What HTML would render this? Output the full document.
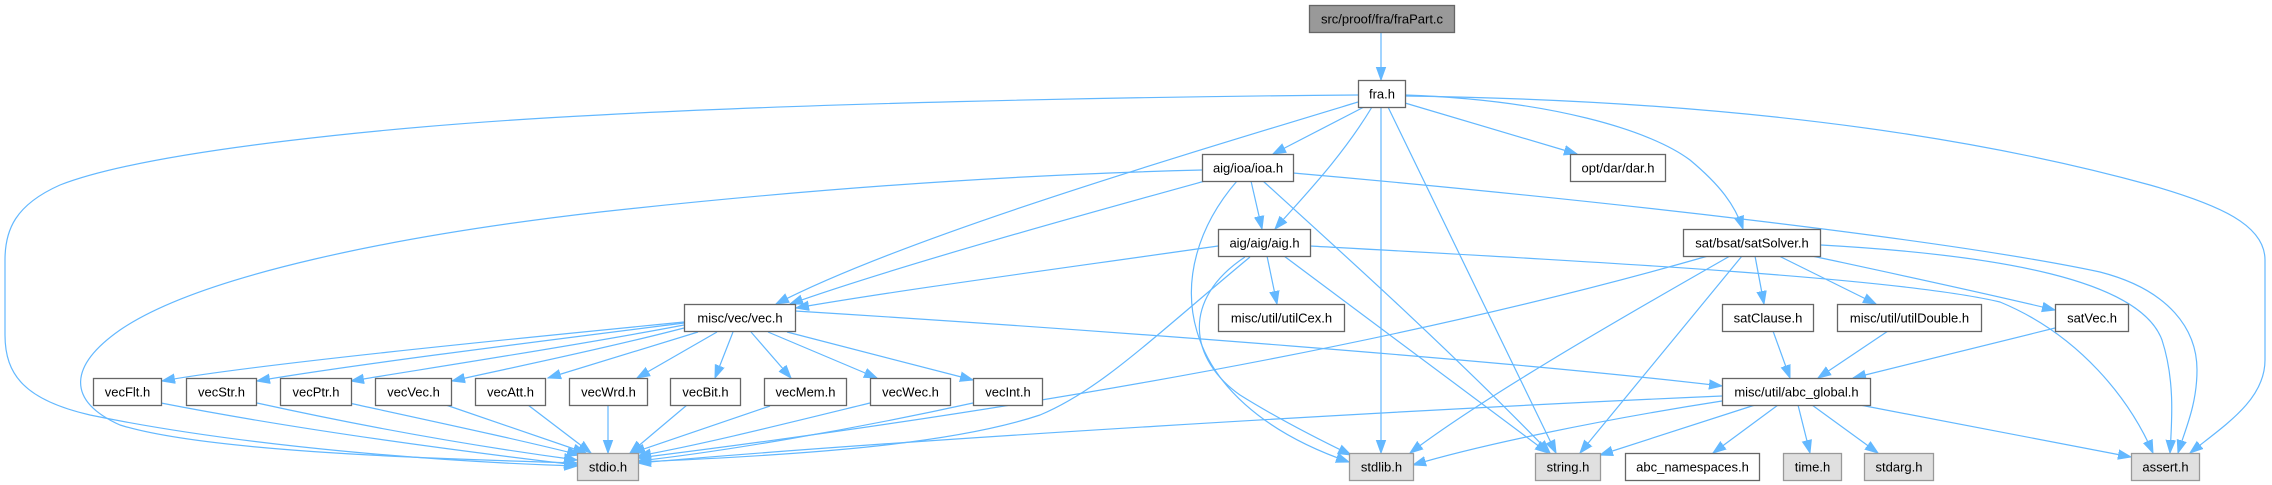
<!DOCTYPE html>
<html>
<head>
<meta charset="utf-8">
<style>
html,body{margin:0;padding:0;background:#ffffff;}
svg{display:block;}
text{font-family:"Liberation Sans",Arial,sans-serif;font-size:13px;fill:#000;}
</style>
</head>
<body>
<svg width="2272" height="485" viewBox="0 0 2272 485" xmlns="http://www.w3.org/2000/svg">
<defs>
<marker id="a" markerUnits="userSpaceOnUse" markerWidth="14" markerHeight="11" refX="13" refY="5.5" orient="auto">
<path d="M0,0.8 L13,5.5 L0,10.2 z" fill="#63b8ff" stroke="#63b8ff" stroke-width="1"/>
</marker>
</defs>
<rect x="0" y="0" width="2272" height="485" fill="#ffffff"/>
<g fill="none" stroke="#63b8ff" stroke-width="1.2" marker-end="url(#a)">
<path d="M1381,32 L1381,80"/>
<path d="M1358,95 C1100,97 800,104 600,115 C400,125 150,150 60,185 C15,205 5,230 5,260 L5,335 C5,375 25,400 90,415 C250,448 450,462 577,466"/>
<path d="M1202,170 C1000,175 800,190 600,212 C400,235 200,275 120,330 C70,365 65,400 120,425 C200,450 400,458 577,463"/>
<path d="M1358,102 C1150,165 900,240 776,304"/>
<path d="M1205,181 C1100,210 900,265 790,304"/>
<path d="M1218,246 C1050,270 900,290 796,308"/>
<path d="M1364,107 L1273,154"/>
<path d="M1372,107 C1340,160 1300,200 1275,229"/>
<path d="M1381,107 L1381,453"/>
<path d="M1388,107 L1556,453"/>
<path d="M1405,103 L1577,154"/>
<path d="M1405,95 C1550,100 1650,130 1690,160 C1720,185 1735,205 1743,229"/>
<path d="M1405,96 C1700,100 1950,130 2150,185 C2220,205 2265,225 2265,260 L2265,360 C2265,400 2225,425 2190,453"/>
<path d="M1251,181 L1262,229"/>
<path d="M1237,181 C1160,270 1170,400 1349,462"/>
<path d="M1263,181 C1350,260 1450,350 1550,453"/>
<path d="M1293,173 C1600,200 1950,240 2100,272 C2170,290 2197,330 2197,370 C2197,405 2185,430 2178,453"/>
<path d="M1267,256 L1277,304"/>
<path d="M1250,257 C1150,340 1100,390 1040,415 C950,445 800,455 638,462"/>
<path d="M1245,257 C1180,300 1190,360 1240,395 C1280,420 1320,440 1351,455"/>
<path d="M1284,256 L1548,453"/>
<path d="M1310,246 C1600,262 1900,278 2000,302 C2080,335 2130,400 2153,453"/>
<path d="M1708,256 C1450,330 1100,400 638,458"/>
<path d="M1730,256 C1600,330 1480,400 1410,453"/>
<path d="M1742,256 L1580,453"/>
<path d="M1755,256 L1764,304"/>
<path d="M1779,256 L1876,304"/>
<path d="M1812,256 C1900,275 1980,292 2055,310"/>
<path d="M1821,245 C2000,255 2140,280 2162,340 C2175,380 2172,420 2170,453"/>
<path d="M1773,331 L1790,378"/>
<path d="M1888,331 L1818,378"/>
<path d="M2055,328 L1853,378"/>
<path d="M795,311 C1100,330 1500,360 1722,386"/>
<path d="M1722,396 C1400,410 900,440 638,463"/>
<path d="M1722,401 C1600,420 1480,445 1413,465"/>
<path d="M1755,405 L1600,455"/>
<path d="M1778,405 L1713,453"/>
<path d="M1798,405 L1810,453"/>
<path d="M1812,405 L1878,453"/>
<path d="M1860,405 L2131,457"/>
<path d="M684,322 C500,340 250,365 162,381"/>
<path d="M684,323 C550,340 350,365 257,381"/>
<path d="M684,325 C580,345 430,368 351,381"/>
<path d="M684,328 C600,350 500,370 452,381"/>
<path d="M698,332 L548,378"/>
<path d="M717,332 L637,378"/>
<path d="M733,332 L715,378"/>
<path d="M751,332 L791,378"/>
<path d="M768,332 L877,378"/>
<path d="M787,332 L973,380"/>
<path d="M161,403 C300,430 450,450 577,465"/>
<path d="M257,403 C380,430 480,447 577,460"/>
<path d="M349,403 C450,425 520,440 580,455"/>
<path d="M446,405 L586,453"/>
<path d="M528,405 L591,453"/>
<path d="M608,405 L608,453"/>
<path d="M687,405 L630,453"/>
<path d="M770,406 L632,453"/>
<path d="M870,403 C780,425 700,445 638,456"/>
<path d="M973,403 C850,430 720,452 638,461"/>
</g>

<g stroke-width="1.3" text-anchor="middle">
<rect x="1309.5" y="5.5" width="145" height="27" fill="#999999" stroke="#666666"/>
<text x="1382" y="23.5">src/proof/fra/fraPart.c</text>

<rect x="1358.5" y="80.5" width="47" height="27" fill="#ffffff" stroke="#666666"/>
<text x="1382" y="98.5">fra.h</text>

<rect x="1202.5" y="154.5" width="91" height="27" fill="#ffffff" stroke="#666666"/>
<text x="1248" y="172.5">aig/ioa/ioa.h</text>

<rect x="1570.5" y="154.5" width="95" height="27" fill="#ffffff" stroke="#666666"/>
<text x="1618" y="172.5">opt/dar/dar.h</text>

<rect x="1218.5" y="229.5" width="92" height="27" fill="#ffffff" stroke="#666666"/>
<text x="1264.5" y="247.5">aig/aig/aig.h</text>

<rect x="1683.5" y="229.5" width="137" height="27" fill="#ffffff" stroke="#666666"/>
<text x="1752" y="247.5">sat/bsat/satSolver.h</text>

<rect x="684.5" y="304.5" width="111" height="27" fill="#ffffff" stroke="#666666"/>
<text x="740" y="322.5">misc/vec/vec.h</text>

<rect x="1218.5" y="304.5" width="126" height="27" fill="#ffffff" stroke="#666666"/>
<text x="1281.5" y="322.5">misc/util/utilCex.h</text>

<rect x="1722.5" y="304.5" width="91" height="27" fill="#ffffff" stroke="#666666"/>
<text x="1768" y="322.5">satClause.h</text>

<rect x="1837.5" y="304.5" width="144" height="27" fill="#ffffff" stroke="#666666"/>
<text x="1909.5" y="322.5">misc/util/utilDouble.h</text>

<rect x="2055.5" y="304.5" width="73" height="27" fill="#ffffff" stroke="#666666"/>
<text x="2092" y="322.5">satVec.h</text>

<rect x="93.5" y="378.5" width="68" height="27" fill="#ffffff" stroke="#666666"/>
<text x="127.5" y="396.5">vecFlt.h</text>

<rect x="186.5" y="378.5" width="70" height="27" fill="#ffffff" stroke="#666666"/>
<text x="221.5" y="396.5">vecStr.h</text>

<rect x="280.5" y="378.5" width="71" height="27" fill="#ffffff" stroke="#666666"/>
<text x="316" y="396.5">vecPtr.h</text>

<rect x="375.5" y="378.5" width="76" height="27" fill="#ffffff" stroke="#666666"/>
<text x="413.5" y="396.5">vecVec.h</text>

<rect x="475.5" y="378.5" width="70" height="27" fill="#ffffff" stroke="#666666"/>
<text x="510.5" y="396.5">vecAtt.h</text>

<rect x="569.5" y="378.5" width="78" height="27" fill="#ffffff" stroke="#666666"/>
<text x="608.5" y="396.5">vecWrd.h</text>

<rect x="670.5" y="378.5" width="70" height="27" fill="#ffffff" stroke="#666666"/>
<text x="705.5" y="396.5">vecBit.h</text>

<rect x="764.5" y="378.5" width="82" height="27" fill="#ffffff" stroke="#666666"/>
<text x="805.5" y="396.5">vecMem.h</text>

<rect x="870.5" y="378.5" width="80" height="27" fill="#ffffff" stroke="#666666"/>
<text x="910.5" y="396.5">vecWec.h</text>

<rect x="973.5" y="378.5" width="69" height="27" fill="#ffffff" stroke="#666666"/>
<text x="1008" y="396.5">vecInt.h</text>

<rect x="1722.5" y="378.5" width="148" height="27" fill="#ffffff" stroke="#666666"/>
<text x="1796.5" y="396.5">misc/util/abc_global.h</text>

<rect x="577.5" y="453.5" width="61" height="27" fill="#e0e0e0" stroke="#999999"/>
<text x="608" y="471.5">stdio.h</text>

<rect x="1349.5" y="453.5" width="64" height="27" fill="#e0e0e0" stroke="#999999"/>
<text x="1381.5" y="471.5">stdlib.h</text>

<rect x="1535.5" y="453.5" width="65" height="27" fill="#e0e0e0" stroke="#999999"/>
<text x="1568" y="471.5">string.h</text>

<rect x="1625.5" y="453.5" width="134" height="27" fill="#ffffff" stroke="#666666"/>
<text x="1692.5" y="471.5">abc_namespaces.h</text>

<rect x="1783.5" y="453.5" width="58" height="27" fill="#e0e0e0" stroke="#999999"/>
<text x="1812.5" y="471.5">time.h</text>

<rect x="1864.5" y="453.5" width="69" height="27" fill="#e0e0e0" stroke="#999999"/>
<text x="1899" y="471.5">stdarg.h</text>

<rect x="2131.5" y="453.5" width="68" height="27" fill="#e0e0e0" stroke="#999999"/>
<text x="2165.5" y="471.5">assert.h</text>
</g>
</svg>
</body>
</html>
